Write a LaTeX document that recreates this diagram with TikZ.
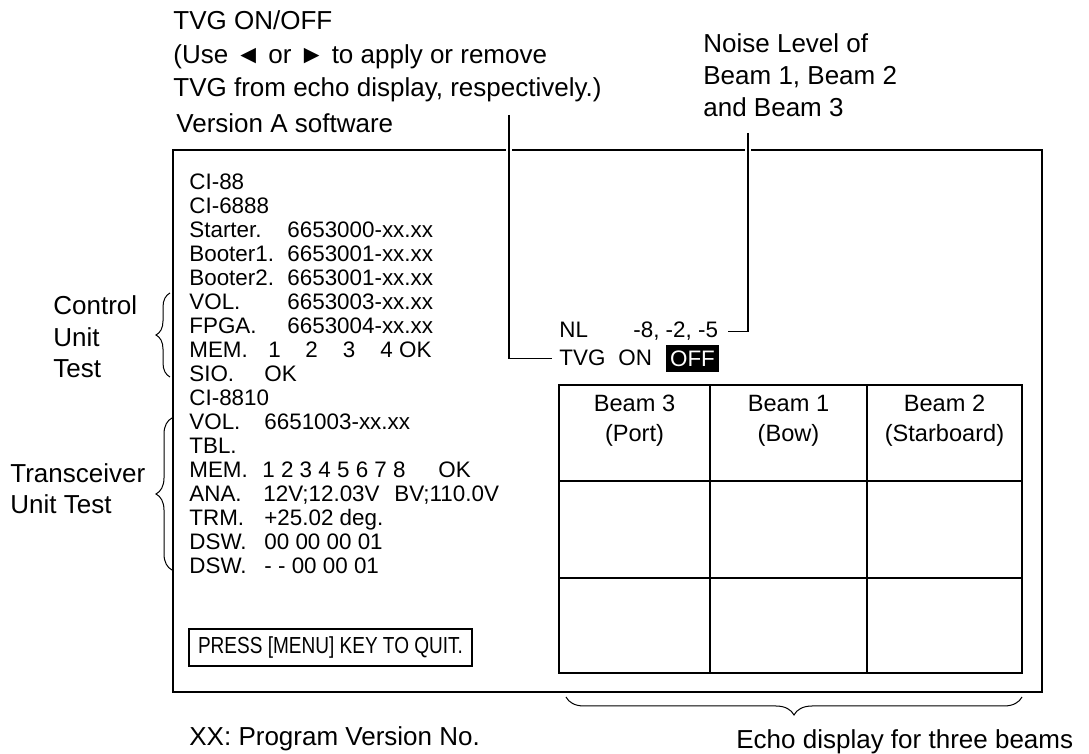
\documentclass[tikz,border=0pt]{standalone}
\usepackage{fontspec}
\setmainfont{Liberation Sans}
\usetikzlibrary{decorations.pathreplacing}

\tikzset{
  note/.style={anchor=base west, inner sep=0pt, font=\fontsize{13}{15}\selectfont},
  scr/.style={anchor=base west, inner sep=0pt, font=\fontsize{11.2}{13}\selectfont},
  beam/.style={anchor=base, inner sep=0pt, font=\fontsize{11.8}{14}\selectfont},
  leader/.style={line width=0.6pt, preaction={draw=white, line width=3pt}},
  brc/.style={decorate, decoration={brace, amplitude=#1}, line width=0.5pt},
  brc/.default=7pt
}

\begin{document}
\begin{tikzpicture}[x=0.5pt, y=-0.5pt]
  \useasboundingbox (0,0) rectangle (1089,754);
  % screen frame
  \draw[line width=0.9pt] (173,150) rectangle (1042,692);
  % notes on top
  \node[note] (tvgA) at (173,30) {TVG ON/OFF};
  \node[note] (tvgB) at (173,63.5) {(Use ◄ or ► to apply or remove};
  \node[note] (tvgC) at (173,97) {TVG from echo display, respectively.)};
  \node[note] (ver) at (176,133) {Version A software};
  \node[note] (nlA) at (703,53) {Noise Level of};
  \node[note] (nlB) at (703,85) {Beam 1, Beam 2};
  \node[note] (nlC) at (703,117) {and Beam 3};
  % test list
  \foreach \lab [count=\i from 0] in {CI-88, CI-6888, Starter., Booter1., Booter2., VOL., FPGA., MEM., SIO., CI-8810, VOL., TBL., MEM., ANA., TRM., DSW., DSW.}
    \node[scr] (L\i) at (189,190+24*\i) {\lab};
  \foreach \val [count=\i from 2] in {6653000-xx.xx, 6653001-xx.xx, 6653001-xx.xx, 6653003-xx.xx, 6653004-xx.xx}
    \node[scr] (V\i) at (287,190+24*\i) {\val};
  \node[scr] (V7) at (268,358) {1\hspace{12.3pt}2\hspace{12.5pt}3\hspace{12.5pt}4\hspace{3.2pt}OK};
  \node[scr] (V8) at (264,382) {OK};
  \node[scr] (V10) at (264,430) {6651003-xx.xx};
  \node[scr] (V12) at (262,478) {1 2 3 4 5 6 7 8};
  \node[scr] (K12) at (438,478) {OK};
  \node[scr] (V13) at (263,502) {12V;12.03V};
  \node[scr] (B13) at (394,502) {BV;110.0V};
  \node[scr] (V14) at (264,526) {+25.02 deg.};
  \node[scr] (V15) at (264,550) {00 00 00 01};
  \node[scr] (V16) at (264,574) {- - 00 00 01};
  \node[draw, line width=0.6pt, minimum width=141.5pt, minimum height=18.5pt, inner sep=0pt,
        font=\fontsize{11.6}{13}\selectfont] (quit) at (330.5,647.5) {\scalebox{0.82}[1]{PRESS [MENU] KEY TO QUIT.}};
  % NL and TVG
  \node[scr] (nl) at (559,338) {NL};
  \node[scr] (nlv) at (633,338) {-8, -2, -5};
  \node[scr] (tvg) at (559,366) {TVG};
  \node[scr] (on) at (618,366) {ON};
  \node[fill=black, text=white, inner sep=0pt, minimum width=26.5pt, minimum height=13.5pt,
        font=\fontsize{11.2}{13}\selectfont] (off) at (692.5,358.5) {OFF};
  \coordinate (tvgend) at (509,115);
  \coordinate (nlend) at (748,133);
  \draw[leader] (tvgend) |- ([xshift=-3.5pt]tvg.west);
  \draw[leader] (nlend) |- ([xshift=5pt]nlv.east);
  % echo grid
  \draw[line width=0.7pt] (559,385) rectangle (1022,673);
  \foreach \gx in {710,867}
    \draw[line width=0.6pt] (\gx,385) -- (\gx,673);
  \foreach \gy in {481,578}
    \draw[line width=0.6pt] (559,\gy) -- (1022,\gy);
  \foreach \nm/\sd/\cx [count=\i] in {Beam 3/(Port)/634.5, Beam 1/(Bow)/788.5, Beam 2/(Starboard)/944.5}
  {
    \node[beam] (bh\i) at (\cx,412) {\nm};
    \node[beam] (bs\i) at (\cx,442) {\sd};
  }
  % braces and labels
  \draw[brc=7pt] (170,377) -- (170,293);
  \draw[brc=8pt] (172,570) -- (172,418);
  \draw[brc=9pt] (1022,697) -- (566,697);
  \node[note] (cu1) at (53,315) {Control};
  \node[note] (cu2) at (53,347) {Unit};
  \node[note] (cu3) at (53,378) {Test};
  \node[note] (tu1) at (10,483) {Transceiver};
  \node[note] (tu2) at (10,514) {Unit Test};
  \node[note] (xx) at (189,746) {XX: Program Version No.};
  \node[note] (echo) at (736,748) {Echo display for three beams};
\end{tikzpicture}
\end{document}
